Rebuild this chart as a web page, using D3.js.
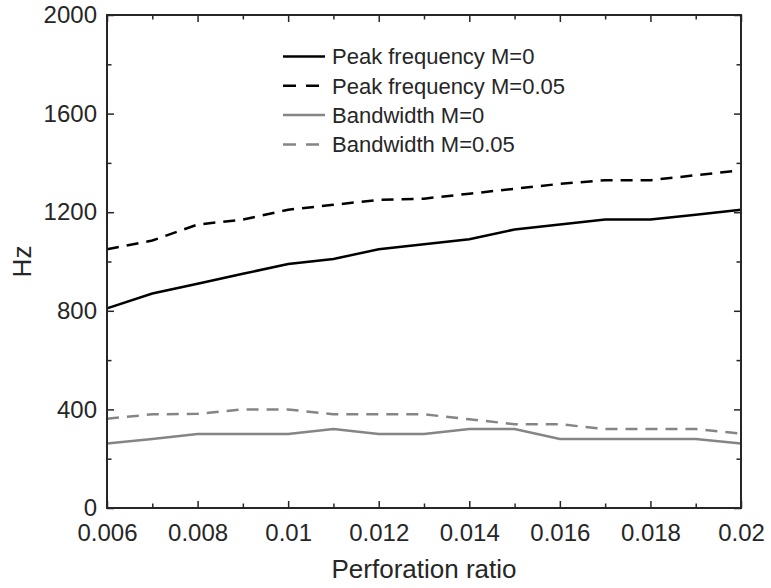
<!DOCTYPE html>
<html>
<head>
<meta charset="utf-8">
<script src="https://cdn.jsdelivr.net/npm/d3@7"></script>
<style>
  body { margin: 0; background: #fff; }
  text { font-family: "Liberation Sans", Arial, sans-serif; fill: #262626; }
</style>
</head>
<body>
<svg width="771" height="588"></svg>
<script>
// perforation ratio (x)
const ratios = [0.006, 0.007, 0.008, 0.009, 0.010, 0.011, 0.012, 0.013, 0.014, 0.015, 0.016, 0.017, 0.018, 0.019, 0.020];

// series values in Hz
const peakM0   = [810, 870, 910, 950, 990, 1010, 1050, 1070, 1090, 1130, 1150, 1170, 1170, 1190, 1210];
const peakM005 = [1050, 1085, 1150, 1170, 1210, 1230, 1250, 1255, 1275, 1295, 1315, 1330, 1330, 1350, 1370];
const bwM0     = [262, 280, 300, 300, 300, 320, 300, 300, 320, 320, 280, 280, 280, 280, 262];
const bwM005   = [362, 380, 382, 400, 400, 380, 380, 380, 360, 340, 340, 320, 320, 320, 302];

const seriesNames = ["Peak frequency M=0", "Peak frequency M=0.05", "Bandwidth M=0", "Bandwidth M=0.05"];

// tick labels
const xTicks = [0.006, 0.008, 0.010, 0.012, 0.014, 0.016, 0.018, 0.020];
const xTickLabels = ["0.006", "0.008", "0.01", "0.012", "0.014", "0.016", "0.018", "0.02"];
const xMinor = [0.007, 0.009, 0.011, 0.013, 0.015, 0.017, 0.019];
const yTicks = [0, 400, 800, 1200, 1600, 2000];
const yMinor = [200, 600, 1000, 1400, 1800];

const series = [
    { name: seriesNames[0], values: peakM0,   color: "#000000", dash: null },
    { name: seriesNames[1], values: peakM005, color: "#000000", dash: "12,8" },
    { name: seriesNames[2], values: bwM0,     color: "#858585", dash: null },
    { name: seriesNames[3], values: bwM005,   color: "#858585", dash: "12,8" }
];

const svg = d3.select("svg");
const plot = { left: 107, right: 741, top: 15, bottom: 508 };

const x = d3.scaleLinear().domain([0.006, 0.02]).range([plot.left, plot.right]);
const y = d3.scaleLinear().domain([0, 2000]).range([plot.bottom, plot.top]);

const line = d3.line()
    .x((d, i) => x(ratios[i]))
    .y(d => y(d));

// data lines
svg.append("g")
    .selectAll("path")
    .data(series)
    .enter()
    .append("path")
    .attr("d", d => line(d.values))
    .attr("fill", "none")
    .attr("stroke", d => d.color)
    .attr("stroke-width", 2.5)
    .attr("stroke-dasharray", d => d.dash);

// axes, ticks pointing inward on all four sides
const fmt = d => xTickLabels[xTicks.indexOf(d)];

function styleAxis(g) {
    g.select(".domain").remove();
    g.selectAll("line").attr("stroke", "#262626").attr("stroke-width", 1.5);
    g.selectAll("text").style("font-size", "24px").attr("fill", "#262626");
}

svg.append("g")
    .attr("transform", `translate(0,${plot.bottom})`)
    .call(d3.axisBottom(x).tickValues(xTicks).tickSize(-7).tickPadding(16).tickFormat(fmt))
    .call(styleAxis);
svg.append("g")
    .attr("transform", `translate(0,${plot.bottom})`)
    .call(d3.axisBottom(x).tickValues(xMinor).tickSize(-4.5).tickFormat(""))
    .call(styleAxis);
svg.append("g")
    .attr("transform", `translate(0,${plot.top})`)
    .call(d3.axisTop(x).tickValues(xTicks).tickSize(-7).tickFormat(""))
    .call(styleAxis);
svg.append("g")
    .attr("transform", `translate(0,${plot.top})`)
    .call(d3.axisTop(x).tickValues(xMinor).tickSize(-4.5).tickFormat(""))
    .call(styleAxis);

svg.append("g")
    .attr("transform", `translate(${plot.left},0)`)
    .call(d3.axisLeft(y).tickValues(yTicks).tickSize(-7).tickPadding(10).tickFormat(d3.format("d")))
    .call(styleAxis);
svg.append("g")
    .attr("transform", `translate(${plot.left},0)`)
    .call(d3.axisLeft(y).tickValues(yMinor).tickSize(-4.5).tickFormat(""))
    .call(styleAxis);
svg.append("g")
    .attr("transform", `translate(${plot.right},0)`)
    .call(d3.axisRight(y).tickValues(yTicks).tickSize(-7).tickFormat(""))
    .call(styleAxis);
svg.append("g")
    .attr("transform", `translate(${plot.right},0)`)
    .call(d3.axisRight(y).tickValues(yMinor).tickSize(-4.5).tickFormat(""))
    .call(styleAxis);

// box
svg.append("rect")
    .attr("x", plot.left)
    .attr("y", plot.top)
    .attr("width", plot.right - plot.left)
    .attr("height", plot.bottom - plot.top)
    .attr("fill", "none")
    .attr("stroke", "#262626")
    .attr("stroke-width", 2);

// axis labels
svg.append("text")
    .attr("x", (plot.left + plot.right) / 2)
    .attr("y", 578)
    .attr("text-anchor", "middle")
    .attr("font-size", "26px")
    .text("Perforation ratio");

svg.append("text")
    .attr("transform", `translate(31,${(plot.top + plot.bottom) / 2}) rotate(-90)`)
    .attr("text-anchor", "middle")
    .attr("font-size", "26px")
    .text("Hz");

// legend
const legend = svg.selectAll(".legend")
    .data(series)
    .enter()
    .append("g")
    .attr("class", "legend")
    .attr("transform", (d, i) => `translate(283, ${56.5 + i * 29.3})`);

legend.append("line")
    .attr("x1", 0)
    .attr("x2", 42)
    .attr("stroke", d => d.color)
    .attr("stroke-width", 2.5)
    .attr("stroke-dasharray", d => d.dash ? "13,10" : null);

legend.append("text")
    .attr("x", 49)
    .attr("dy", "0.35em")
    .attr("font-size", "22px")
    .text(d => d.name);
</script>
</body>
</html>
